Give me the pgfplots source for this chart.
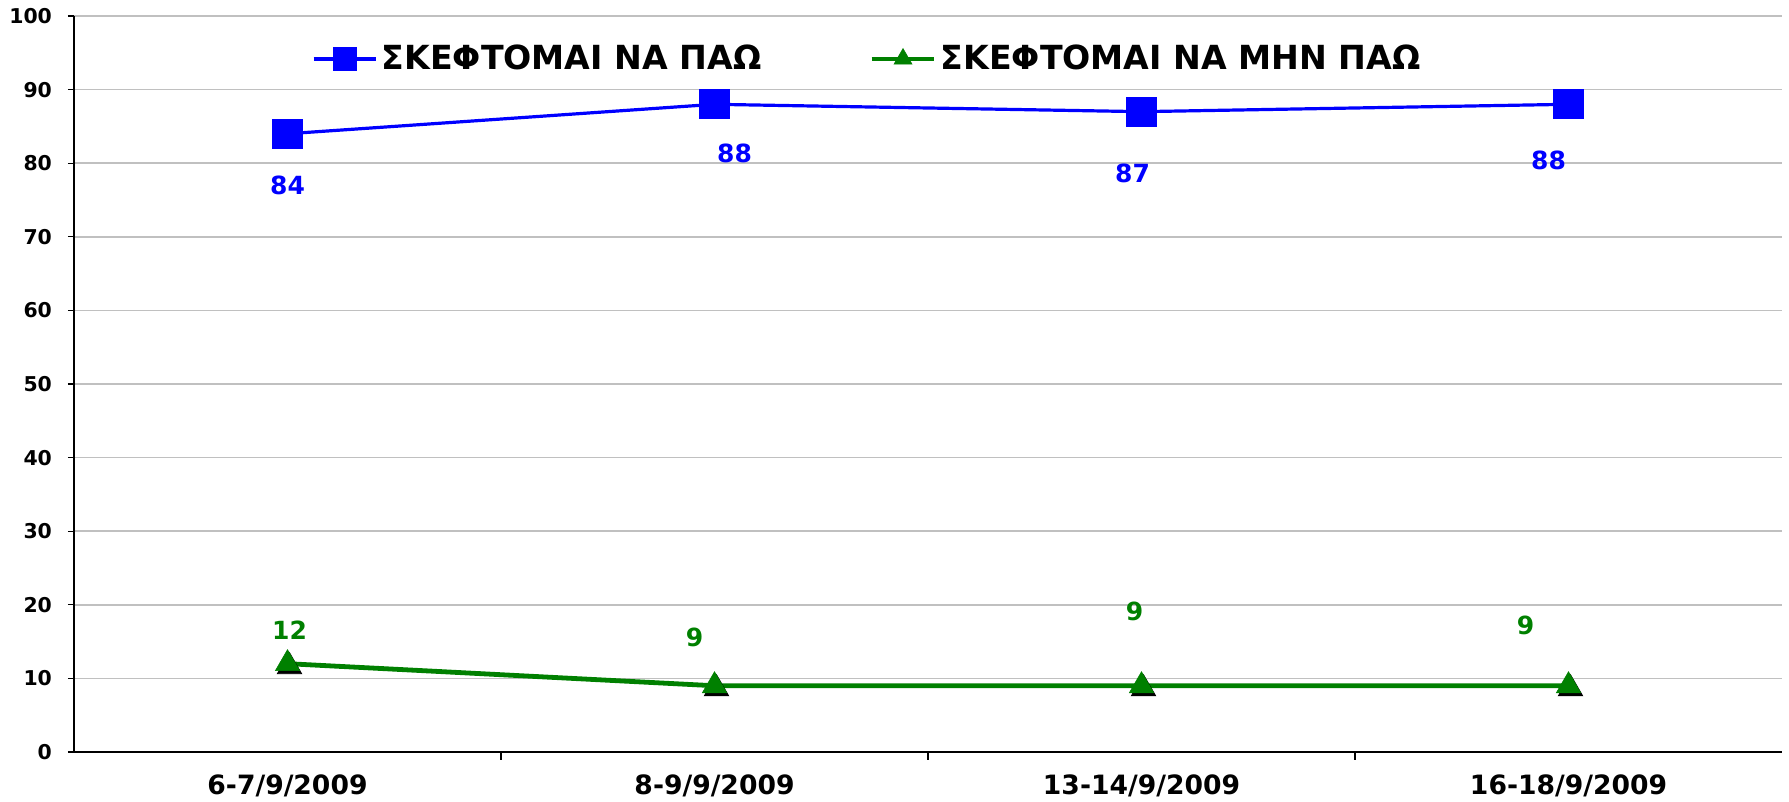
\documentclass[border=0pt]{standalone}
\usepackage{fontspec}
\setmainfont{DejaVu Sans}
\usepackage{pgfplots}
\usepackage{pgfplotstable}
\pgfplotsset{compat=1.18}
\definecolor{cblue}{RGB}{0,0,255}
\definecolor{cgreen}{RGB}{0,128,0}
\definecolor{cgrid}{RGB}{192,192,192}

\pgfplotstableread{
x y dx dy
0 84 0 -26
1 88 10 -24.5
2 87 -4.5 -31
3 88 -10 -28
}\tblA
\pgfplotstableread{
x y dx dy
0 12 1 16.5
1 9 -10 24
2 9 -3.5 37
3 9 -21.5 30
}\tblB

\begin{document}
\begin{tikzpicture}
\begin{axis}[
 scale only axis, width=854pt, height=368pt,
 xmin=-0.5, xmax=3.5, ymin=0, ymax=100,
 axis lines=left, axis line style={black, line width=0.8pt, -},
 xtick={0,1,2,3},
 xticklabels={6-7/9/2009, 8-9/9/2009, 13-14/9/2009, 16-18/9/2009},
 minor xtick={0.5,1.5,2.5},
 major x tick style={draw=none},
 minor x tick style={black, line width=0.6pt},
 minor tick length=4pt,
 ytick={0,10,...,100},
 major tick length=3pt,
 tick style={black, line width=0.6pt},
 tick align=outside,
 ymajorgrids, grid style={cgrid, line width=0.8pt},
 /pgf/number format/assume math mode=true,
 yticklabel style={font=\fontsize{10.2pt}{12pt}\selectfont\bfseries, xshift=-4.5pt},
 xticklabel style={font=\fontsize{13.3pt}{15pt}\selectfont\bfseries, yshift=-5pt},
 legend style={at={(0.465,0.9416)}, anchor=center, draw=none, fill=none,
   legend columns=2, font=\fontsize{16.6pt}{19pt}\selectfont\bfseries,
   /tikz/every even column/.append style={column sep=52pt}},
 legend image code/.code={\draw[mark repeat=2,mark phase=2,mark size=5.2pt] plot coordinates {(0cm,0cm) (0.55cm,0cm) (1.1cm,0cm)};},
 visualization depends on={\thisrow{dx}\as\dx},
 visualization depends on={\thisrow{dy}\as\dy},
 point meta=explicit symbolic,
]
\addplot[cblue, line width=1.6pt, mark=square*, mark size=6.75pt, mark options={solid, fill=cblue, draw=cblue},
  nodes near coords,
  nodes near coords style={font=\fontsize{12.5pt}{15pt}\selectfont\bfseries, text=cblue, anchor=center, xshift=\dx pt, yshift=\dy pt}]
  table[x=x, y=y, meta=y]{\tblA};
\addlegendentry{ΣΚΕΦΤΟΜΑΙ ΝΑ ΠΑΩ}
\addplot[only marks, forget plot, mark=triangle*, mark size=7pt, mark options={fill=black, draw=black, xshift=1pt, yshift=-1.5pt}]
  table[x=x, y=y]{\tblB};
\addplot[cgreen, line width=2.4pt, mark=triangle*, mark size=7pt, mark options={solid, fill=cgreen, draw=cgreen, line width=0.3pt},
  nodes near coords,
  nodes near coords style={font=\fontsize{12.5pt}{15pt}\selectfont\bfseries, text=cgreen, anchor=center, xshift=\dx pt, yshift=\dy pt}]
  table[x=x, y=y, meta=y]{\tblB};
\addlegendentry{ΣΚΕΦΤΟΜΑΙ ΝΑ ΜΗΝ ΠΑΩ}
\end{axis}
\pgfresetboundingbox
\path ([shift={(-37pt,-25pt)}]current axis.south west) rectangle ([shift={(3.5pt,8pt)}]current axis.north east);
\end{tikzpicture}
\end{document}
